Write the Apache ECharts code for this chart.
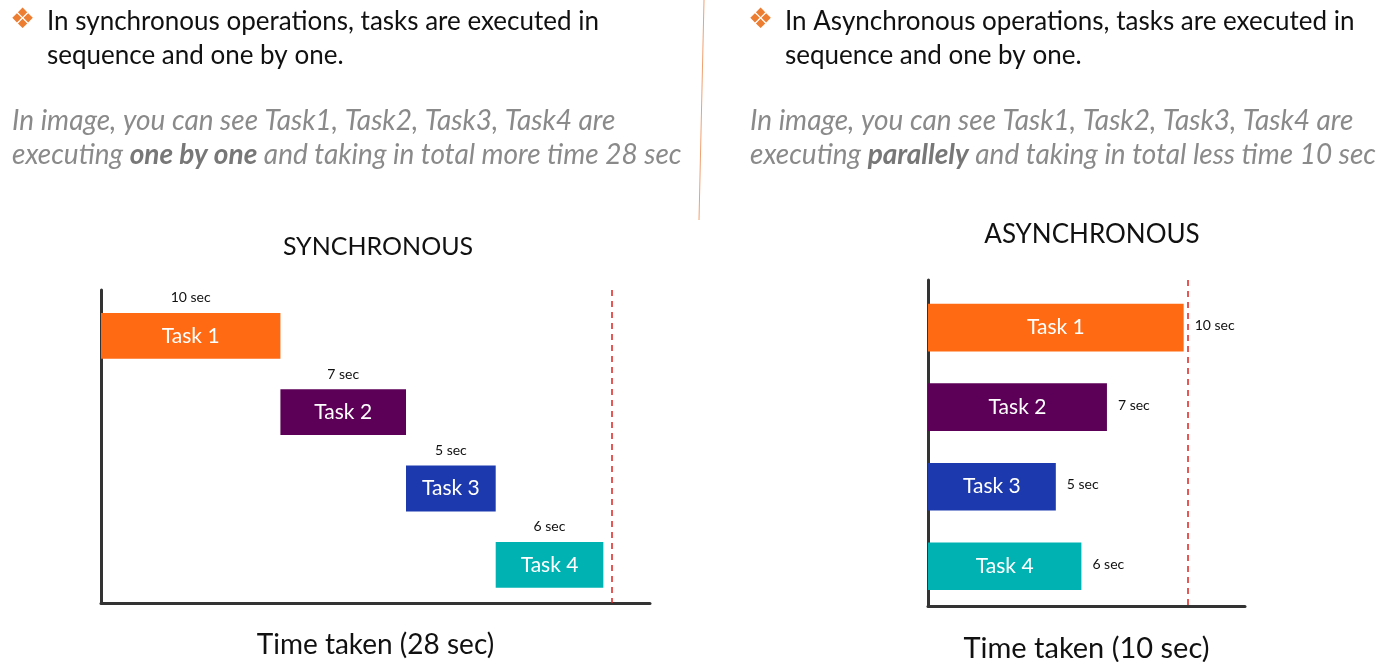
<!DOCTYPE html>
<html>
<head>
<meta charset="utf-8">
<script src="https://cdn.jsdelivr.net/npm/echarts@6/dist/echarts.min.js"></script>
<style>
html,body{margin:0;padding:0;background:#fff;}
#c{width:1388px;height:662px;}
</style>
</head>
<body>
<div id="c"></div>
<script>
// ---- data ----
var tasks = ['Task 1', 'Task 2', 'Task 3', 'Task 4'];
var durations = [10, 7, 5, 6];          // seconds per task
var durationLabels = ['10 sec', '7 sec', '5 sec', '6 sec'];
var taskColors = ['#FF6A13', '#5C0057', '#1D39AE', '#00B3B2'];
var syncTitle = 'SYNCHRONOUS';
var asyncTitle = 'ASYNCHRONOUS';
var syncTotalLabel = 'Time taken (28 sec)';
var asyncTotalLabel = 'Time taken (10 sec)';

// synchronous: tasks start one after the other
var syncData = [];
var t = 0;
for (var i = 0; i < tasks.length; i++) {
  syncData.push([i, t, t + durations[i], tasks[i], durationLabels[i]]);
  t += durations[i];
}
var syncTotal = t;
// asynchronous: all start at 0
var asyncData = [];
var asyncTotal = 0;
for (var j = 0; j < tasks.length; j++) {
  asyncData.push([j, 0, durations[j], tasks[j], durationLabels[j]]);
  asyncTotal = Math.max(asyncTotal, durations[j]);
}

var FONT = 'Lato, "Open Sans", sans-serif';

function makeRender(labelMode) {
  return function (params, api) {
    var row = api.value(0);
    var s = api.coord([api.value(1), row]);
    var e = api.coord([api.value(2), row]);
    var h = api.size([0, 1])[1] * 0.6;
    var idx = params.dataIndex;
    var x0 = s[0], x1 = e[0], yc = s[1];
    var children = [{
      type: 'rect',
      shape: {x: x0, y: yc - h / 2, width: x1 - x0, height: h},
      style: {fill: taskColors[idx]}
    }, {
      type: 'text',
      style: {
        text: api.value(3), x: (x0 + x1) / 2, y: yc,
        align: 'center', verticalAlign: 'middle',
        fill: '#fff', font: '21px ' + FONT
      }
    }];
    if (labelMode === 'top') {
      children.push({
        type: 'text',
        style: {
          text: api.value(4), x: (x0 + x1) / 2, y: yc - h / 2 - 15,
          align: 'center', verticalAlign: 'middle',
          fill: '#111', font: '14px ' + FONT
        }
      });
    } else {
      children.push({
        type: 'text',
        style: {
          text: api.value(4), x: x1 + 11, y: yc - 2,
          align: 'left', verticalAlign: 'middle',
          fill: '#111', font: '14px ' + FONT
        }
      });
    }
    return {type: 'group', children: children};
  };
}

var axisLine = {show: true, onZero: false, lineStyle: {color: '#333', width: 3}};

var chart = echarts.init(document.getElementById('c'));
chart.setOption({
  animation: false,
  backgroundColor: '#fff',
  title: [
    {text: syncTitle, left: 373, top: 229, textAlign: 'center',
      textStyle: {fontFamily: FONT, fontWeight: 'normal', fontSize: 25, color: '#111'}},
    {text: asyncTitle, left: 1087, top: 217, textAlign: 'center',
      textStyle: {fontFamily: FONT, fontWeight: 'normal', fontSize: 26, color: '#111'}}
  ],
  grid: [
    {left: 101, top: 290, width: 549, height: 313, outerBoundsMode: 'none', containLabel: false},
    {left: 928, top: 280, width: 317, height: 326, outerBoundsMode: 'none', containLabel: false}
  ],
  xAxis: [
    {gridIndex: 0, type: 'value', min: 0, max: 30.6, axisLine: axisLine,
      axisTick: {show: false}, axisLabel: {show: false}, splitLine: {show: false},
      name: syncTotalLabel, nameLocation: 'middle', nameGap: 28,
      nameTextStyle: {fontFamily: FONT, fontSize: 28, color: '#111', verticalAlign: 'top'}},
    {gridIndex: 1, type: 'value', min: 0, max: 12.4, axisLine: axisLine,
      axisTick: {show: false}, axisLabel: {show: false}, splitLine: {show: false},
      name: asyncTotalLabel, nameLocation: 'middle', nameGap: 28,
      nameTextStyle: {fontFamily: FONT, fontSize: 29, color: '#111', verticalAlign: 'top'}}
  ],
  yAxis: [
    {gridIndex: 0, type: 'value', inverse: true, min: -0.6, max: 3.5, axisLine: axisLine,
      axisTick: {show: false}, axisLabel: {show: false}, splitLine: {show: false}},
    {gridIndex: 1, type: 'value', inverse: true, min: -0.6, max: 3.5, axisLine: axisLine,
      axisTick: {show: false}, axisLabel: {show: false}, splitLine: {show: false}}
  ],
  series: [
    {
      type: 'custom', xAxisIndex: 0, yAxisIndex: 0, data: syncData,
      renderItem: makeRender('top'),
      markLine: {
        silent: true, symbol: 'none', label: {show: false},
        lineStyle: {color: '#E0201E', type: [6, 5], width: 1.5},
        data: [{xAxis: syncTotal + 0.45}]
      }
    },
    {
      type: 'custom', xAxisIndex: 1, yAxisIndex: 1, data: asyncData,
      renderItem: makeRender('right'),
      markLine: {
        silent: true, symbol: 'none', label: {show: false},
        lineStyle: {color: '#E0201E', type: [6, 5], width: 1.5},
        data: [{xAxis: asyncTotal + 0.15}]
      }
    }
  ],
  graphic: [
    {type: 'line', shape: {x1: 704, y1: 0, x2: 699, y2: 220},
      style: {stroke: '#F0A070', lineWidth: 1}},
    {type: 'text', left: 10, top: 7,
      style: {text: '\u2756', fill: '#ED7D31', font: '28px "DejaVu Sans"'}},
    {type: 'text', left: 47, top: 5,
      style: {text: 'In synchronous operations, tasks are executed in\nsequence and one by one.',
        fill: '#111', font: '26px ' + FONT, lineHeight: 34}},
    {type: 'text', left: 12, top: 107,
      style: {
        text: '{i|In image, you can see Task1, Task2, Task3, Task4 are}\n{i|executing }{b|one by one}{i| and taking in total more time 28 sec}',
        rich: {
          i: {fill: '#8A8A8A', font: 'italic 28px ' + FONT, lineHeight: 34},
          b: {fill: '#777', font: 'italic bold 28px ' + FONT, lineHeight: 34}
        }
      }},
    {type: 'text', left: 748, top: 7,
      style: {text: '\u2756', fill: '#ED7D31', font: '28px "DejaVu Sans"'}},
    {type: 'text', left: 785, top: 5,
      style: {text: 'In Asynchronous operations, tasks are executed in\nsequence and one by one.',
        fill: '#111', font: '26px ' + FONT, lineHeight: 34}},
    {type: 'text', left: 750, top: 107,
      style: {
        text: '{i|In image, you can see Task1, Task2, Task3, Task4 are}\n{i|executing }{b|parallely}{i| and taking in total less time 10 sec}',
        rich: {
          i: {fill: '#8A8A8A', font: 'italic 28px ' + FONT, lineHeight: 34},
          b: {fill: '#777', font: 'italic bold 28px ' + FONT, lineHeight: 34}
        }
      }}
  ]
});
</script>
</body>
</html>
